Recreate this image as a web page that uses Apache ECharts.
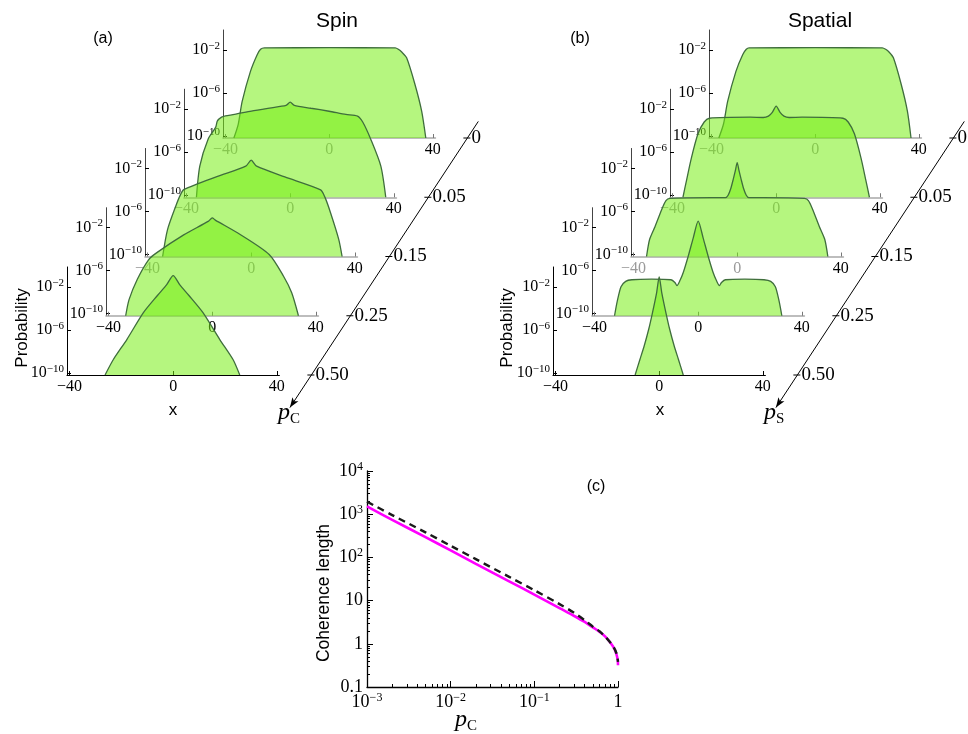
<!DOCTYPE html>
<html><head><meta charset="utf-8">
<script src="https://cdn.jsdelivr.net/npm/echarts@6/dist/echarts.min.js"></script>
<style>html,body{margin:0;padding:0;background:#fff}#c{width:968px;height:734px}</style>
</head><body><div id="c"></div>
<script>
// ================= DATA =================
const xTicks = [-40, 0, 40];
const yTicksLog = [-10, -6, -2];              // log10 of probability
const pCLabels = ['0.50', '0.25', '0.15', '0.05', '0'];   // front -> back
const pSLabels = ['0.50', '0.25', '0.15', '0.05', '0'];

// Spin (a): x positions and log10(Probability), front (p=0.50) to back (p=0)
const spinX050 = [-26.3, -23.1, -17.9, -11.5, -6, -2.5, 0, 2.5, 6, 11.5, 18, 23.1, 25.7];
const spinP050 = [-10.2, -8.76, -6.9, -4.4, -2.78, -1.79, -0.95, -1.79, -2.78, -4.4, -6.9, -8.76, -10.2];
const spinX025 = [-33.4, -32.1, -28.9, -24.5, -21.5, -11, -1.4, 0, 1.2, 10.8, 22, 27.5, 30.7, 33.3];
const spinP025 = [-10.2, -8.7, -6.8, -4.97, -4.35, -2.68, -1.4, -1.09, -1.3, -2.64, -4.5, -6.5, -8.07, -10.2];
const spinX015 = [-34.2, -32.3, -29.1, -27.2, -25.9, -13, -2.1, 0, 2.1, 13, 26.8, 28.5, 30.6, 33.8, 35.1];
const spinP015 = [-10.2, -7.7, -5.5, -4.4, -3.96, -2.75, -1.8, -1.24, -1.8, -2.8, -4.0, -4.7, -6.1, -8.6, -10.2];
const spinX005 = [-36.2, -34.9, -31.7, -28.8, -28.1, -26.5, -25, -21.5, -15, -8, -1.6, 0, 1.6, 8, 15, 21.5, 26, 28, 31.1, 35, 36.9];
const spinP005 = [-10.2, -7.3, -4.8, -3.7, -3.1, -2.75, -2.62, -2.5, -2.18, -1.9, -1.66, -1.35, -1.66, -1.92, -2.2, -2.5, -2.65, -3.2, -4.8, -7.3, -10.2];
const spinX000 = [-36.8, -35.1, -33.6, -30.4, -27.8, -26.5, -25, 0, 25.5, 26.7, 28, 29.9, 33.1, 35.7, 37.3];
const spinP000 = [-10.2, -8.9, -6.8, -4.0, -2.45, -1.95, -1.82, -1.8, -1.82, -1.95, -2.2, -2.74, -5.2, -7.7, -10.2];

// Spatial (b)
const spatX050 = [-9.3, -7.5, -5.8, -4, -2.6, -1, 0, 1, 2.6, 4, 5.8, 7.5, 9.3];
const spatP050 = [-10.2, -8.8, -7.5, -5.9, -4.42, -2.56, -1.07, -2.56, -4.42, -5.9, -7.5, -8.8, -10.2];
const spatX025 = [-32.3, -31.2, -29.8, -28, -25.6, -18, -10.5, -9, -8.2, -7, -5.8, -3.85, -1.9, 0, 1.9, 3.85, 5.8, 7, 8.2, 9, 10.5, 18, 25.4, 28, 29.8, 31.2, 32.3];
const spatP025 = [-10.2, -8.8, -7.5, -7.0, -6.85, -6.8, -6.85, -7.1, -7.39, -6.9, -6.2, -4.66, -2.95, -1.4, -2.95, -4.66, -6.2, -6.9, -7.39, -7.1, -6.85, -6.8, -6.85, -7.0, -7.5, -8.8, -10.2];
const spatX015 = [-35, -33.8, -31.7, -29.1, -27.5, -26, -10, -4.5, -3.5, -2.5, -1.5, -0.7, 0, 0.7, 1.5, 2.5, 3.5, 4.5, 10, 26, 27.5, 29.1, 31.7, 33.8, 35];
const spatP015 = [-10.2, -8.6, -7.4, -5.8, -5.0, -4.8, -4.73, -4.73, -4.5, -3.9, -3.0, -2.2, -1.48, -2.2, -3.0, -3.9, -4.5, -4.73, -4.73, -4.8, -5.0, -5.8, -7.4, -8.6, -10.2];
const spatX005 = [-36, -34.6, -32.8, -30.2, -27.8, -25.8, -10, -5, -3, -1.5, 0, 1.5, 3, 5, 10, 25.8, 27.8, 30.2, 32.8, 34.6, 36];
const spatP005 = [-10.2, -8.6, -6.6, -4.3, -3.2, -2.85, -2.75, -2.78, -2.65, -2.3, -1.72, -2.3, -2.65, -2.78, -2.75, -2.85, -3.2, -4.3, -6.6, -8.6, -10.2];
const spatX000 = [-37.2, -35.4, -33.8, -30.6, -28, -26.6, -25.5, 0, 25.9, 27.2, 28.5, 30.2, 33.2, 35.6, 37];
const spatP000 = [-10.2, -8.9, -6.8, -4.0, -2.45, -1.95, -1.82, -1.8, -1.82, -1.95, -2.2, -2.74, -5.2, -7.7, -10.2];

// Coherence length (c)
const pC = [0.001, 0.002, 0.005, 0.01, 0.02, 0.05, 0.1, 0.2, 0.3, 0.4, 0.5, 0.6, 0.7, 0.8, 0.9, 0.95, 0.98, 0.995, 1.0];
const cohMagenta = [1510, 740, 295, 145, 71, 28, 13.8, 6.7, 4.4, 3.2, 2.4, 1.9, 1.48, 1.1, 0.78, 0.6, 0.48, 0.4, 0.32];
const cohDashed  = [1950, 955, 380, 186, 91, 35.5, 17.4, 8.3, 5.2, 3.5, 2.5, 1.95, 1.48, 1.1, 0.79, 0.63, 0.5, 0.42, 0.38];
const cXTicks = [-3, -2, -1, 0];        // log10 p
const cYTicks = [-1, 0, 1, 2, 3, 4];    // log10 L

// ================= LAYOUT / STYLE =================
const SERIF = "'Liberation Serif', 'DejaVu Serif', serif";
const SANS = "'Liberation Sans', Arial, sans-serif";
const PX = 2.59, PY = 10.75;
const XMIN = -41, XMAX = 41, YMIN = -10.2, YMAX = -0.15;
const GW = (XMAX - XMIN) * PX, GH = (YMAX - YMIN) * PY;
const DX = 39, DY = 59.25, BASE0 = 375;
const FILL = 'rgba(118,238,18,0.54)';
const EDGE = '#3f6e3c';

const panels = [
  { left0: 67, xs: [spinX050, spinX025, spinX015, spinX005, spinX000], ps: [spinP050, spinP025, spinP015, spinP005, spinP000] },
  { left0: 553, xs: [spatX050, spatX025, spatX015, spatX005, spatX000], ps: [spatP050, spatP025, spatP015, spatP005, spatP000] }
];

const grids = [], xAxes = [], yAxes = [], series = [];
const supRich = (fs, color) => ({
  b: { fontFamily: SERIF, fontSize: fs, lineHeight: fs + 3, color: color || '#000' },
  s: { fontFamily: SERIF, fontSize: Math.round(fs * 0.68), lineHeight: Math.round(fs * 0.68), verticalAlign: 'top', color: color || '#000' }
});
const minus = v => (v < 0 ? '\u2212' + Math.abs(v) : String(v));

panels.forEach((pan, pi) => {
  for (let k = 0; k < 5; k++) {
    const gi = pi * 5 + k;
    const left = pan.left0 + DX * k;
    const bottom = BASE0 - DY * k;
    const zb = (5 - k) * 10;
    grids.push({ left: left, top: bottom - GH, width: GW, height: GH, show: false, containLabel: false, outerBoundsMode: 'none', z: zb });
    const front = k === 0;
    xAxes.push({
      type: 'value', gridIndex: gi, min: XMIN, max: XMAX, z: zb + 1,
      axisLine: { show: true, onZero: false, lineStyle: { color: front ? '#000' : '#a8a8a8', width: front ? 1.2 : 1.6 } },
      axisTick: { show: true, inside: true, length: 4, customValues: xTicks, lineStyle: { color: front ? '#000' : '#777' } },
      axisLabel: {
        customValues: xTicks, margin: 4, fontFamily: SERIF, fontSize: 16,
        formatter: v => minus(v),
        color: (v) => (k >= 2 && Number(v) < 40) ? '#9a9a9a' : '#000'
      },
      splitLine: { show: false }
    });
    yAxes.push({
      type: 'value', gridIndex: gi, min: YMIN, max: YMAX, z: zb + 1,
      axisLine: { show: true, onZero: false, lineStyle: { color: front ? '#000' : '#444', width: 1 } },
      axisTick: { show: true, inside: true, length: 4, customValues: yTicksLog, lineStyle: { color: '#000' } },
      axisLabel: {
        customValues: yTicksLog, margin: 3,
        formatter: v => '{b|10}{s|' + minus(v) + '}',
        rich: supRich(16)
      },
      splitLine: { show: false }
    });
    series.push({
      type: 'line', xAxisIndex: gi, yAxisIndex: gi, z: zb + 2,
      data: pan.xs[k].map((x, i) => [x, pan.ps[k][i]]),
      symbol: 'none', smooth: 0.25, silent: true,
      lineStyle: { color: EDGE, width: 1.3 },
      areaStyle: { color: FILL, origin: 'start', opacity: 1 }
    });
  }
});

// ---- panel (c) ----
const CG = 10;
grids.push({ left: 367, top: 471, width: 251, height: 216, show: false, containLabel: false, outerBoundsMode: 'none' });
const cXMinor = [], cYMinor = [];
for (let e = -3; e < 0; e++) for (let m = 2; m <= 9; m++) cXMinor.push(e + Math.log10(m));
for (let e = -1; e < 4; e++) for (let m = 2; m <= 9; m++) cYMinor.push(e + Math.log10(m));
const cXLabel = v => v === 0 ? '{b|1}' : '{b|10}{s|' + minus(v) + '}';
const cYLabel = v => v === -1 ? '{b|0.1}' : v === 0 ? '{b|1}' : v === 1 ? '{b|10}' : '{b|10}{s|' + v + '}';
xAxes.push({
  type: 'value', gridIndex: CG, min: -3, max: 0, interval: 1, position: 'bottom',
  axisLine: { show: true, onZero: false, lineStyle: { color: '#000', width: 1.3 } },
  axisTick: { show: true, inside: true, length: 6, lineStyle: { color: '#000' } },
  axisLabel: { margin: 5, formatter: cXLabel, rich: supRich(18) },
  splitLine: { show: false }
});
xAxes.push({
  type: 'value', gridIndex: CG, min: -3, max: 0, position: 'bottom',
  axisLine: { show: false, onZero: false },
  axisTick: { show: true, inside: true, length: 3, customValues: cXMinor, lineStyle: { color: '#000' } },
  axisLabel: { show: false }, splitLine: { show: false }
});
yAxes.push({
  type: 'value', gridIndex: CG, min: -1, max: 4, interval: 1, position: 'left',
  axisLine: { show: true, onZero: false, lineStyle: { color: '#000', width: 1.3 } },
  axisTick: { show: true, inside: true, length: 6, lineStyle: { color: '#000' } },
  axisLabel: { margin: 4, formatter: cYLabel, rich: supRich(18) },
  splitLine: { show: false }
});
yAxes.push({
  type: 'value', gridIndex: CG, min: -1, max: 4, position: 'left',
  axisLine: { show: false, onZero: false },
  axisTick: { show: true, inside: true, length: 3, customValues: cYMinor, lineStyle: { color: '#000' } },
  axisLabel: { show: false }, splitLine: { show: false }
});
series.push({
  type: 'line', xAxisIndex: 10, yAxisIndex: 10, z: 5, symbol: 'none', smooth: 0.3,
  data: pC.map((p, i) => [Math.log10(p), Math.log10(cohMagenta[i])]),
  lineStyle: { color: '#ff00ff', width: 2.6 }
});
series.push({
  type: 'line', xAxisIndex: 10, yAxisIndex: 10, z: 6, symbol: 'none', smooth: 0.3,
  data: pC.map((p, i) => [Math.log10(p), Math.log10(cohDashed[i])]),
  lineStyle: { color: '#1a1a1a', width: 2.4, type: [7, 5] }
});

// ---- graphics: titles, labels, diagonal parameter axes ----
const graphic = [];
const txt = (x, y, text, fs, extra) => Object.assign({
  type: 'text', x: x, y: y, z: 200,
  style: Object.assign({ text: text, fontSize: fs, fontFamily: SANS, fill: '#000', align: 'center', verticalAlign: 'middle' }, (extra && extra.style) || {})
}, extra && extra.rotation !== undefined ? { rotation: extra.rotation } : {});

graphic.push(txt(337, 21.5, 'Spin', 21));
graphic.push(txt(820, 21.5, 'Spatial', 21));
graphic.push(txt(103, 38.5, '(a)', 16));
graphic.push(txt(580, 38.5, '(b)', 16));
graphic.push(txt(596, 487, '(c)', 16));
graphic.push(txt(22.5, 328, 'Probability', 17, { rotation: Math.PI / 2 }));
graphic.push(txt(507.5, 328, 'Probability', 17, { rotation: Math.PI / 2 }));
graphic.push(txt(173, 410, 'x', 17));
graphic.push(txt(660, 410, 'x', 17));
graphic.push(txt(324, 593, 'Coherence length', 17.5, { rotation: Math.PI / 2 }));

const mathRich = (fs) => ({
  i: { fontFamily: SERIF, fontStyle: 'italic', fontSize: fs, lineHeight: fs + 4, color: '#000' },
  u: { fontFamily: SERIF, fontSize: Math.round(fs * 0.62), lineHeight: Math.round(fs * 0.62), verticalAlign: 'bottom', color: '#000' }
});
graphic.push({ type: 'text', x: 466, y: 720, z: 200, style: { text: '{i|p}{u|C}', rich: mathRich(24), align: 'center', verticalAlign: 'middle' } });

[{ left0: 67, labels: pCLabels, sub: 'C' }, { left0: 553, labels: pSLabels, sub: 'S' }].forEach(d => {
  const T = k => [d.left0 + GW + 32 + DX * k, BASE0 - DY * k];
  const top = T(4.28), tip = T(-0.55);
  graphic.push({ type: 'line', z: 200, shape: { x1: top[0], y1: top[1], x2: tip[0], y2: tip[1] }, style: { stroke: '#000', lineWidth: 1 } });
  const ux = (tip[0] - top[0]), uy = (tip[1] - top[1]);
  const L = Math.hypot(ux, uy), ax = ux / L, ay = uy / L;
  const hl = 10, hw = 3.6;
  const bx = tip[0] - ax * hl, by = tip[1] - ay * hl;
  graphic.push({ type: 'polygon', z: 201, shape: { points: [[tip[0], tip[1]], [bx - ay * hw, by + ax * hw], [bx + ax * 2.5, by + ay * 2.5], [bx + ay * hw, by - ax * hw]] }, style: { fill: '#000' } });
  d.labels.forEach((lab, k) => {
    const p = T(k);
    graphic.push({ type: 'line', z: 200, shape: { x1: p[0] - 4, y1: p[1], x2: p[0] + 3, y2: p[1] }, style: { stroke: '#000', lineWidth: 1 } });
    graphic.push({ type: 'text', x: p[0] + 4, y: p[1], z: 200, style: { text: lab, fontFamily: SERIF, fontSize: 19, fill: '#000', align: 'left', verticalAlign: 'middle' } });
  });
  graphic.push({ type: 'text', x: tip[0] - 12, y: 413, z: 200, style: { text: '{i|p}{u|' + d.sub + '}', rich: mathRich(24), align: 'left', verticalAlign: 'middle' } });
});

const chart = echarts.init(document.getElementById('c'), null, { renderer: 'canvas' });
chart.setOption({
  animation: false,
  backgroundColor: '#fff',
  grid: grids, xAxis: xAxes, yAxis: yAxes, series: series, graphic: graphic
});
</script></body></html>
